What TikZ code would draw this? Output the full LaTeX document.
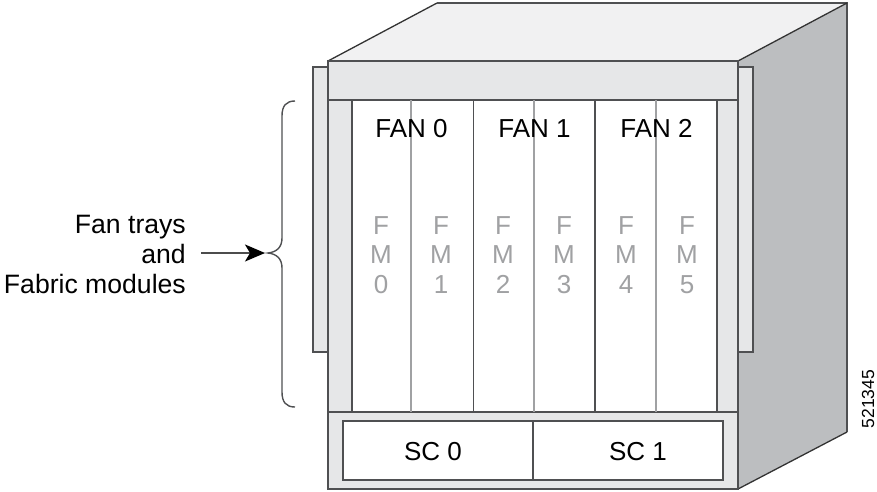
\documentclass[tikz,border=0pt]{standalone}
\usepackage{fontspec}
\setmainfont{Liberation Sans}
\usetikzlibrary{calc,arrows.meta}
\definecolor{lineGray}{HTML}{4F5052}
\definecolor{topGray}{HTML}{F1F1F2}
\definecolor{bandGray}{HTML}{E6E7E8}
\definecolor{sideGray}{HTML}{BCBEC0}
\definecolor{fmGray}{HTML}{A0A1A3}
\tikzset{
  chassis/.style={draw=lineGray,line width=1.5pt,line join=miter},
  lbl/.style={inner sep=0pt,font=\fontsize{26}{30}\selectfont},
}
\begin{document}
\begin{tikzpicture}[x=1pt,y=-1pt]
  \useasboundingbox (0,0) rectangle (877,491);

  %% Outer faces of the chassis
  \fill[topGray] (328,61) -- (437,3) -- (847,3) -- (738,61) -- cycle;
  \fill[sideGray] (738,61) -- (847,3) -- (847,432) -- (738,489) -- cycle;
  \draw[black!80,line width=1.3pt] (328,61) -- (437,3);
  \draw[lineGray,line width=1.5pt] (437,3) -- (847,3) -- (847,432);
  \draw[black!80,line width=1.3pt] (847,3) -- (738,61) (847,432) -- (738,489);

  %% Side ears
  \draw[chassis,fill=bandGray] (328,67) -- (313,67) -- (313,352) -- (328,352);
  \draw[chassis,fill=bandGray] (738,67) -- (753,67) -- (753,352) -- (738,352);

  %% Front panel
  \draw[chassis,fill=bandGray] (328,61) rectangle (738,489);
  \fill[white] (352,100) rectangle (717,412);
  \draw[chassis] (328,100) -- (738,100);
  \draw[chassis] (328,412) -- (738,412);

  %% Fan trays and their fabric modules
  \foreach \x/\y/\fan in {352/411/0,473.5/534/1,595/656/2}
  {
    \draw[chassis] (\x,100) -- (\x,412);
    \draw[fmGray,line width=1.2pt] (\y,100) -- (\y,412);
    \node[lbl,anchor=base] (FAN\fan) at (\y+0.5,137) {FAN \fan};
  }
  \draw[chassis] (717,100) -- (717,412);

  \foreach \x/\m in {381/0,441/1,503/2,564/3,626/4,687/5}
  {
    \node[lbl,text=fmGray,align=center,font=\fontsize{26}{29.5}\selectfont] (FM\m) at (\x,255) {F\\M\\\m};
  }

  %% Supervisor slots
  \draw[chassis,fill=white] (343,421) rectangle (723,480);
  \draw[chassis] (533,421) -- (533,480);
  \node[lbl,anchor=base] (SC0) at (433,460) {SC 0};
  \node[lbl,anchor=base] (SC1) at (638,460) {SC 1};

  %% Brace with its label
  \draw[lineGray,line width=1.4pt] (295,101) .. controls (286,101) and (282,106) .. (282,116)
    -- (282,238) .. controls (282,247) and (277,252) .. (268,253)
    .. controls (277,254) and (282,259) .. (282,268)
    -- (282,392) .. controls (282,402) and (286,407) .. (295,407);

  \node[lbl,align=right,anchor=east,font=\fontsize{26.6}{30}\selectfont] (LABEL) at (186,254) {Fan trays\\and\\Fabric modules};
  \coordinate (TAIL) at (201,253);
  \coordinate (TIP) at (265,253);
  \draw[-{Stealth[length=20pt,width=17pt,inset=5pt,black]},black!70,line width=1.5pt] (TAIL) -- (TIP);

  \node[rotate=90,inner sep=0pt,font=\fontsize{17.5}{20}\selectfont] (IMGID) at (868,399) {521345};
\end{tikzpicture}
\end{document}
